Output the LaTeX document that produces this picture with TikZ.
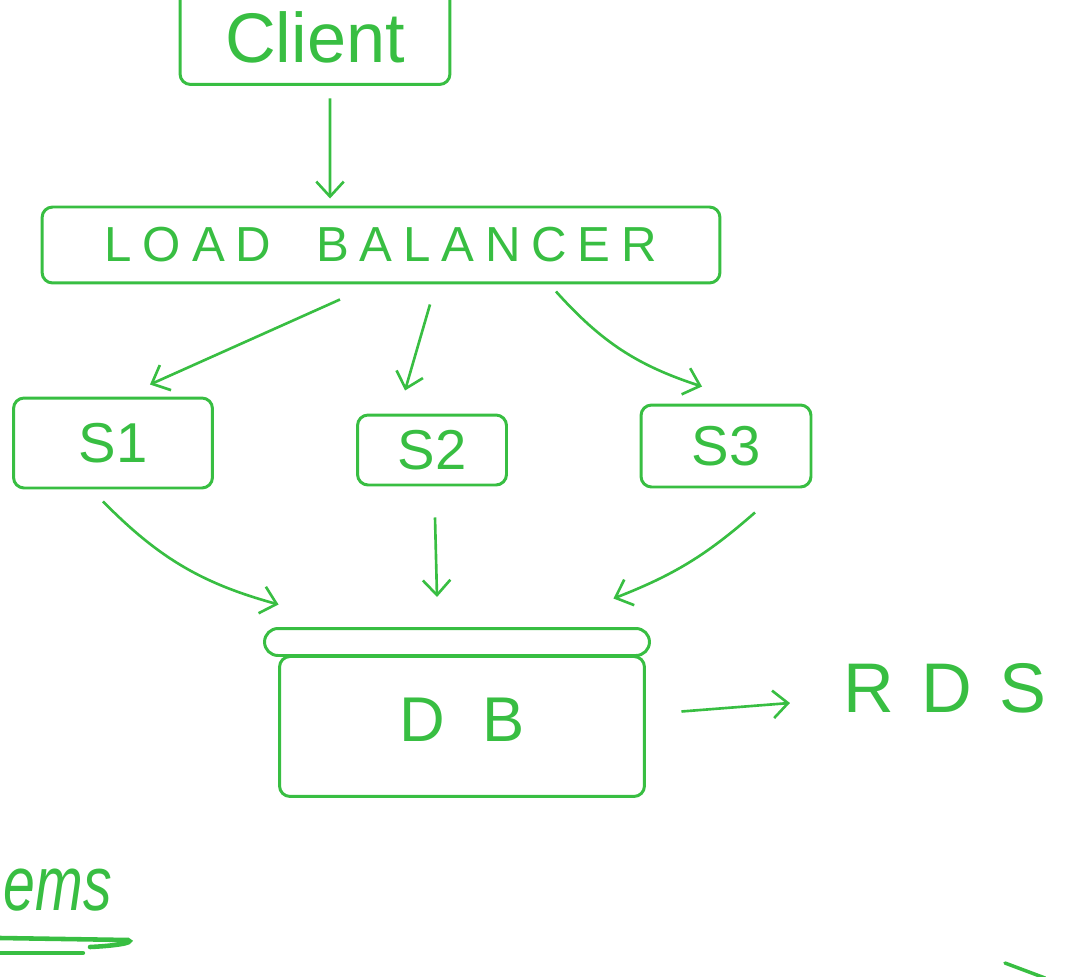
\documentclass[tikz,border=0pt]{standalone}
\usepackage{fontspec}
\setmainfont{Liberation Sans}
\usetikzlibrary{arrows.meta, positioning}
\definecolor{marker}{RGB}{56,190,66}

\begin{document}
\begin{tikzpicture}[
    x=0.02cm, y=-0.02cm,
    box/.style={
        rectangle, draw=marker, line width=1.7pt, rounded corners=6pt,
        text=marker, inner sep=0pt
    },
    label/.style={text=marker, inner sep=0pt},
    arrow/.style={-{Straight Barb[length=3mm,width=5.5mm]}, draw=marker, line width=1.5pt},
    stroke/.style={draw=marker, line cap=round}
]
\useasboundingbox (0,0) rectangle (1067,976);

% Client (top edge runs off the page)
\node[box, minimum width=5.4cm, minimum height=1.9cm,
      font=\fontsize{40}{48}\selectfont] (client) at (315,37) {Client};

% Load balancer
\node[box, minimum width=13.56cm, minimum height=1.52cm,
      font=\fontsize{28}{34}\selectfont\addfontfeature{LetterSpace=22}] (lb) at (381,245)
    {LOAD\hspace{0.9cm}BALANCER};

% Servers
\node[box, minimum width=3.98cm, minimum height=1.8cm,
      font=\fontsize{32}{38}\selectfont] (s1) at (113,443) {S1};
\node[box, minimum width=2.98cm, minimum height=1.4cm,
      font=\fontsize{32}{38}\selectfont] (s2) at (432,450) {S2};
\node[box, minimum width=3.4cm, minimum height=1.64cm,
      font=\fontsize{32}{38}\selectfont] (s3) at (726,446) {S3};

% Database: lid and body
\node[box, minimum width=7.7cm, minimum height=0.54cm, rounded corners=0.27cm] (dblid) at (457,642) {};
\node[box, minimum width=7.3cm, minimum height=2.8cm, anchor=north,
      font=\fontsize{36}{42}\selectfont] (db) at (462,655) {\raisebox{0.25cm}{D\hspace{0.75cm}B}};

% Managed database label
\node[label, font=\fontsize{40}{48}\selectfont] (rds) at (945,688) {R\hspace{0.55cm}D\hspace{0.55cm}S};

% Client to load balancer
\draw[arrow] ([xshift=0.3cm,yshift=-0.25cm]client.south) -- ([xshift=-1.02cm,yshift=0.14cm]lb.north);

% Load balancer to servers
\draw[arrow] ([xshift=-0.82cm,yshift=-0.3cm]lb.south) -- ([xshift=0.74cm,yshift=0.24cm]s1.north);
\draw[arrow] ([xshift=0.98cm,yshift=-0.4cm]lb.south) -- ([xshift=-0.54cm,yshift=0.46cm]s2.north);
\draw[arrow] ([xshift=3.5cm,yshift=-0.14cm]lb.south) to[bend right=15] ([xshift=-0.48cm,yshift=0.34cm]s3.north);

% Servers to database
\draw[arrow] ([xshift=-0.2cm,yshift=-0.24cm]s1.south) to[bend right=15] ([xshift=0.31cm,yshift=0.45cm]dblid.north west);
\draw[arrow] ([xshift=0.06cm,yshift=-0.62cm]s2.south) -- ([xshift=-0.4cm,yshift=0.6cm]dblid.north);
\draw[arrow] ([xshift=0.58cm,yshift=-0.48cm]s3.south) to[bend left=10] ([xshift=-0.75cm,yshift=0.57cm]dblid.north east);

% Database to RDS
\draw[arrow] ([xshift=0.71cm,yshift=0.3cm]db.east) -- ([xshift=-1.06cm,yshift=-0.3cm]rds.west);

% Heading at the left edge, with its underline
\node[label, font=\fontsize{44}{50}\selectfont\itshape, anchor=base east] (heading) at (112,910)
    {\scalebox{0.74}[1]{ems}};
\draw[stroke, line width=2.6pt] (0,938) -- (128,940) .. controls (136,943) and (112,946) .. (90,947);
\draw[stroke, line width=2.4pt] (0,953) -- (83,953);

% Stray stroke at the bottom right
\draw[stroke, line width=2pt] (1005,963) -- (1045,978);

\end{tikzpicture}
\end{document}
